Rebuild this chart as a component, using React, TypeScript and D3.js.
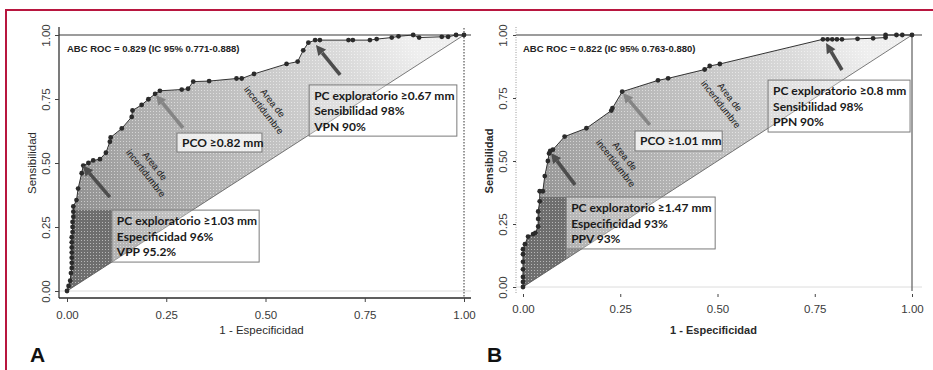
import { useEffect, useRef } from "react";
import * as d3 from "d3";

const tickVals = [0, 0.25, 0.5, 0.75, 1];

// ROC A: 1 - especificidad / sensibilidad
const fprA = [0, 0.004, 0.008, 0.01, 0.012, 0.012, 0.012, 0.012, 0.012, 0.012, 0.012, 0.014, 0.014, 0.014, 0.016, 0.016, 0.016, 0.024, 0.028, 0.037, 0.041, 0.054, 0.066, 0.083, 0.098, 0.108, 0.11, 0.138, 0.163, 0.165, 0.188, 0.205, 0.222, 0.234, 0.289, 0.305, 0.318, 0.358, 0.427, 0.44, 0.471, 0.553, 0.581, 0.595, 0.608, 0.625, 0.637, 0.709, 0.72, 0.763, 0.78, 0.818, 0.835, 0.872, 0.887, 0.944, 0.96, 0.98, 1];
const tprA = [0, 0.02, 0.04, 0.07, 0.09, 0.11, 0.13, 0.15, 0.17, 0.19, 0.21, 0.23, 0.25, 0.27, 0.29, 0.31, 0.33, 0.355, 0.4, 0.46, 0.49, 0.5, 0.51, 0.515, 0.54, 0.583, 0.6, 0.635, 0.68, 0.705, 0.727, 0.749, 0.77, 0.782, 0.787, 0.79, 0.818, 0.82, 0.83, 0.83, 0.848, 0.887, 0.896, 0.94, 0.97, 0.98, 0.98, 0.98, 0.98, 0.98, 0.984, 0.99, 0.995, 1, 0.99, 0.993, 0.993, 1, 1];

// ROC B
const fprB = [0, 0, 0, 0, 0, 0, 0, 0.005, 0.013, 0.026, 0.032, 0.039, 0.039, 0.039, 0.043, 0.043, 0.051, 0.056, 0.064, 0.067, 0.07, 0.077, 0.107, 0.163, 0.227, 0.23, 0.255, 0.347, 0.373, 0.467, 0.48, 0.506, 0.771, 0.783, 0.795, 0.807, 0.82, 0.86, 0.9, 0.932, 0.932, 0.96, 0.975, 1];
const tprB = [0, 0.02, 0.04, 0.07, 0.1, 0.13, 0.15, 0.17, 0.2, 0.21, 0.215, 0.24, 0.27, 0.3, 0.34, 0.38, 0.38, 0.44, 0.5, 0.53, 0.54, 0.545, 0.597, 0.63, 0.7, 0.71, 0.775, 0.82, 0.828, 0.863, 0.877, 0.885, 0.983, 0.983, 0.983, 0.983, 0.983, 0.985, 0.987, 0.99, 1, 1, 1, 1];

const aucA = "ABC ROC = 0.829 (IC 95% 0.771-0.888)";
const aucB = "ABC ROC = 0.822 (IC 95% 0.763-0.880)";

const boxTextA = [
  ["PC exploratorio ≥1.03 mm", "Especificidad 96%", "VPP 95.2%"],
  ["PCO ≥0.82 mm"],
  ["PC exploratorio ≥0.67 mm", "Sensibilidad 98%", "VPN 90%"],
];
const boxTextB = [
  ["PC exploratorio ≥1.47 mm", "Especificidad 93%", "PPV 93%"],
  ["PCO ≥1.01 mm"],
  ["PC exploratorio ≥0.8 mm", "Sensibilidad 98%", "PPN 90%"],
];

const zoneLines = ["Area de", "incertidumbre"];

interface Panel {
  id: string;
  letter: string;
  fpr: number[];
  tpr: number[];
  auc: string;
  boxText: string[][];
  xr: [number, number];
  yr: [number, number];
  axisX: number;
  right: number;
  bottomY: number;
  tickLen: number;
  labelDy: number;
  bold: boolean;
  styleA: boolean;
  // annotation geometry in data units
  boxes: { x0: number; x1: number; t: number; b: number; fill: number }[];
  arrows: { from: [number, number]; to: [number, number]; color: string }[];
  zones: [number, number][];
}

const panels: Panel[] = [
  {
    id: "a", letter: "A", fpr: fprA, tpr: tprA, auc: aucA, boxText: boxTextA,
    xr: [67, 464], yr: [291, 35], axisX: 59, right: 471, bottomY: 298, tickLen: 4, labelDy: 21,
    bold: false, styleA: true,
    boxes: [
      { x0: 0.113, x1: 0.484, t: 0.316, b: 0.113, fill: 0.3 },
      { x0: 0.277, x1: 0.491, t: 0.617, b: 0.543, fill: 0.75 },
      { x0: 0.61, x1: 0.982, t: 0.805, b: 0.605, fill: 0.3 },
    ],
    arrows: [
      { from: [0.108, 0.367], to: [0.04, 0.49], color: "#4d4d4d" },
      { from: [0.292, 0.637], to: [0.224, 0.766], color: "#858585" },
      { from: [0.688, 0.844], to: [0.627, 0.961], color: "#4d4d4d" },
    ],
    zones: [[0.209, 0.473], [0.506, 0.719]],
  },
  {
    id: "b", letter: "B", fpr: fprB, tpr: tprB, auc: aucB, boxText: boxTextB,
    xr: [523, 912], yr: [287, 35], axisX: 516, right: 922, bottomY: 294, tickLen: 3, labelDy: 19,
    bold: true, styleA: false,
    boxes: [
      { x0: 0.111, x1: 0.494, t: 0.357, b: 0.151, fill: 0.3 },
      { x0: 0.288, x1: 0.512, t: 0.619, b: 0.54, fill: 0.75 },
      { x0: 0.63, x1: 0.995, t: 0.821, b: 0.615, fill: 0.3 },
    ],
    arrows: [
      { from: [0.134, 0.405], to: [0.072, 0.532], color: "#4d4d4d" },
      { from: [0.326, 0.643], to: [0.257, 0.77], color: "#858585" },
      { from: [0.82, 0.861], to: [0.779, 0.968], color: "#4d4d4d" },
    ],
    zones: [[0.249, 0.504], [0.519, 0.738]],
  },
];

const AXIS_FONT = "'Liberation Sans', Arial, sans-serif";
const BOX_FONT = "Lato, 'Open Sans', sans-serif";

function drawPanel(svg: d3.Selection<SVGSVGElement, unknown, null, undefined>, p: Panel) {
  const x = d3.scaleLinear().domain([0, 1]).range(p.xr);
  const y = d3.scaleLinear().domain([0, 1]).range(p.yr);
  const pts: [number, number][] = p.fpr.map((f, i) => [f, p.tpr[i]]);
  const line = d3.line<[number, number]>().x(d => x(d[0])).y(d => y(d[1]));

  const defs = svg.append("defs");
  defs.append("clipPath").attr("id", `clip-${p.id}`)
    .append("path").attr("d", line(pts) + "Z");
  const grad = defs.append("linearGradient").attr("id", `grad-${p.id}`)
    .attr("gradientUnits", "userSpaceOnUse")
    .attr("x1", x(0)).attr("y1", y(0)).attr("x2", x(0.85)).attr("y2", y(1));
  [[0, "#7e7e7e"], [0.3, "#a6a6a6"], [0.6, "#c2c2c2"], [0.85, "#dadada"], [1, "#efefef"]]
    .forEach(([o, c]) => grad.append("stop").attr("offset", o as number).attr("stop-color", c as string));

  const g = svg.append("g");

  // shaded area between curve and diagonal
  const shade = g.append("g").attr("clip-path", `url(#clip-${p.id})`);
  shade.append("rect").attr("x", x(0)).attr("y", y(1)).attr("width", x(1) - x(0)).attr("height", y(0) - y(1))
    .attr("fill", `url(#grad-${p.id})`);
  const b0 = p.boxes[0];
  shade.append("rect").attr("x", x(0)).attr("y", y(b0.t)).attr("width", x(b0.x0) - x(0)).attr("height", y(0) - y(b0.t))
    .attr("fill", "#6e6e6e");
  shade.append("rect").attr("x", x(0)).attr("y", y(1)).attr("width", x(1) - x(0)).attr("height", y(0) - y(1))
    .attr("fill", "url(#dots)");

  // zero line (light)
  g.append("line").attr("x1", p.axisX).attr("x2", p.right).attr("y1", y(0)).attr("y2", y(0))
    .attr("stroke", "#dcdcdc").attr("stroke-width", 1);
  // top line at sensibilidad 1
  g.append("line").attr("x1", p.axisX).attr("x2", p.right).attr("y1", y(1)).attr("y2", y(1))
    .attr("stroke", "#3a3a3a").attr("stroke-width", 1.2);
  // vertical at 1 - especificidad = 1
  g.append("line").attr("x1", x(1)).attr("x2", x(1)).attr("y1", p.styleA ? y(1) - 7 : y(1)).attr("y2", p.styleA ? p.bottomY : y(0) + 4)
    .attr("stroke", p.styleA ? "#333" : "#6a6a6a").attr("stroke-width", p.styleA ? 1 : 1.3)
    .attr("stroke-dasharray", p.styleA ? "1.5,1.5" : null);
  // diagonal
  g.append("line").attr("x1", x(0)).attr("y1", y(0)).attr("x2", x(1)).attr("y2", y(1))
    .attr("stroke", "#5a5a5a").attr("stroke-width", 0.8);

  // left axis
  g.append("line").attr("x1", p.axisX).attr("x2", p.axisX).attr("y1", y(1) - 8).attr("y2", p.styleA ? p.bottomY : y(0) + 6)
    .attr("stroke", p.styleA ? "#333" : "#9a9a9a").attr("stroke-width", p.styleA ? 1.3 : 1)
    .attr("stroke-dasharray", p.styleA ? null : "1,1.5");
  const ya = g.append("g").attr("transform", `translate(${p.axisX},0)`)
    .call(d3.axisLeft(y).tickValues(tickVals).tickSize(p.tickLen).tickFormat(d3.format(".2f")));
  ya.select(".domain").remove();
  ya.selectAll("line").attr("stroke", "#444");
  ya.selectAll("text")
    .attr("transform", "rotate(-90)")
    .attr("x", 0).attr("y", -9).attr("dy", null)
    .attr("text-anchor", "middle")
    .attr("fill", "#3a3a3a").attr("font-size", 11.5).attr("font-family", AXIS_FONT);

  // bottom axis
  if (p.styleA) {
    g.append("line").attr("x1", p.axisX).attr("x2", p.right).attr("y1", p.bottomY).attr("y2", p.bottomY)
      .attr("stroke", "#2a2a2a").attr("stroke-width", 1.5);
  }
  const xa = g.append("g").attr("transform", `translate(0,${p.bottomY})`)
    .call(d3.axisBottom(x).tickValues(tickVals).tickSize(p.tickLen).tickFormat(d3.format(".2f")));
  xa.select(".domain").remove();
  xa.selectAll("line").attr("stroke", "#444");
  xa.selectAll("text").attr("y", p.labelDy).attr("dy", null)
    .attr("fill", "#3a3a3a").attr("font-size", 11.5).attr("font-family", AXIS_FONT);

  // axis titles
  g.append("text").attr("x", (x(0) + x(1)) / 2 - 4).attr("y", 334).attr("text-anchor", "middle")
    .attr("font-size", p.bold ? 11 : 11.5).attr("font-weight", p.bold ? 700 : 400)
    .attr("font-family", AXIS_FONT).attr("fill", "#2a2a2a").text("1 - Especificidad");
  g.append("text").attr("transform", `translate(${p.axisX - 23},${(y(0) + y(1)) / 2}) rotate(-90)`)
    .attr("text-anchor", "middle")
    .attr("font-size", p.bold ? 11 : 11.5).attr("font-weight", p.bold ? 700 : 400)
    .attr("font-family", AXIS_FONT).attr("fill", "#2a2a2a").text("Sensibilidad");

  // panel letter
  g.append("text").attr("x", p.axisX - 29).attr("y", 362)
    .attr("font-size", 21).attr("font-weight", 700).attr("font-family", AXIS_FONT).attr("fill", "#111")
    .text(p.letter);

  // AUC
  g.append("text").attr("x", x(0)).attr("y", y(1) + 17)
    .attr("font-size", 9.5).attr("font-weight", 700).attr("font-family", AXIS_FONT).attr("fill", "#222")
    .text(p.auc);

  // "Area de incertidumbre" labels
  p.zones.forEach(([zx, zy]) => {
    const zg = g.append("g").attr("transform", `translate(${x(zx)},${y(zy)}) rotate(52)`);
    zoneLines.forEach((t, i) => {
      zg.append("text").attr("x", 0).attr("y", i === 0 ? -3 : 8.5).attr("text-anchor", "middle")
        .attr("font-size", 9.5).attr("font-family", AXIS_FONT).attr("fill", "#222").text(t);
    });
  });

  // curve and points
  g.append("path").attr("d", line(pts)).attr("fill", "none").attr("stroke", "#333").attr("stroke-width", 1);
  g.selectAll("circle.pt").data(pts).enter().append("circle").attr("class", "pt")
    .attr("cx", d => x(d[0])).attr("cy", d => y(d[1])).attr("r", 2.4).attr("fill", "#2b2b2b");

  // arrows
  p.arrows.forEach(a => {
    const x1 = x(a.from[0]), y1 = y(a.from[1]), x2 = x(a.to[0]), y2 = y(a.to[1]);
    const ang = Math.atan2(y2 - y1, x2 - x1);
    const hl = 10, hw = 5;
    const bx = x2 - hl * Math.cos(ang), by = y2 - hl * Math.sin(ang);
    g.append("line").attr("x1", x1).attr("y1", y1).attr("x2", bx).attr("y2", by)
      .attr("stroke", a.color).attr("stroke-width", 3.6);
    const px = -Math.sin(ang) * hw, py = Math.cos(ang) * hw;
    g.append("path").attr("d", `M${x2},${y2}L${bx + px},${by + py}L${bx - px},${by - py}Z`).attr("fill", a.color);
  });

  // text boxes
  p.boxes.forEach((b, i) => {
    const bx = x(b.x0), by = y(b.t), bw = x(b.x1) - x(b.x0), bh = y(b.b) - y(b.t);
    g.append("rect").attr("x", bx).attr("y", by).attr("width", bw).attr("height", bh)
      .attr("fill", "#fff").attr("fill-opacity", b.fill).attr("stroke", "#7a7a7a").attr("stroke-width", 1);
    const lines = p.boxText[i];
    lines.forEach((t, j) => {
      g.append("text").attr("x", bx + 5).attr("y", lines.length === 1 ? by + bh / 2 + 4.5 : by + 15 + j * 15.5)
        .attr("font-size", 12).attr("font-weight", 700).attr("font-family", BOX_FONT).attr("fill", "#1a1a1a")
        .text(t);
    });
  });
}

export default function App() {
  const svgRef = useRef<SVGSVGElement>(null);

  useEffect(() => {
    if (!svgRef.current) return;
    const svg = d3.select(svgRef.current);
    svg.selectAll("*").remove();

    const defs = svg.append("defs");
    const pat = defs.append("pattern").attr("id", "dots").attr("patternUnits", "userSpaceOnUse")
      .attr("width", 3).attr("height", 3);
    pat.append("rect").attr("x", 0).attr("y", 0).attr("width", 1).attr("height", 1).attr("fill", "#fff").attr("fill-opacity", 0.5);

    svg.append("rect").attr("width", 933).attr("height", 370).attr("fill", "#fff");

    panels.forEach(p => drawPanel(svg, p));

    // frame lines
    svg.append("line").attr("x1", 5).attr("x2", 933).attr("y1", 10).attr("y2", 10)
      .attr("stroke", "#b8163f").attr("stroke-width", 2);
    svg.append("line").attr("x1", 6).attr("x2", 6).attr("y1", 9).attr("y2", 370)
      .attr("stroke", "#b8163f").attr("stroke-width", 2);
  }, []);

  return (
    <div style={{ position: "absolute", left: 0, top: 0 }}>
      <svg ref={svgRef} width={933} height={370} style={{ display: "block" }} />
    </div>
  );
}
